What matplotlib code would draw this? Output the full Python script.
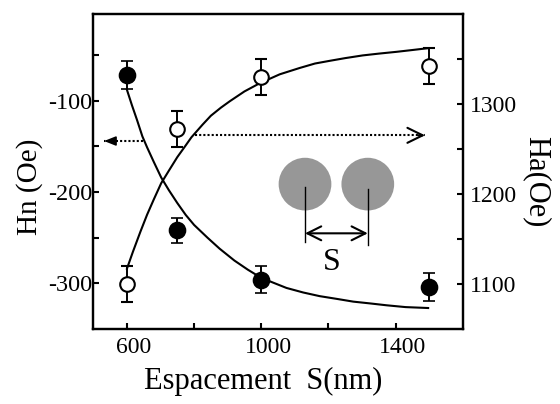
import matplotlib
matplotlib.use("Agg")
import matplotlib.pyplot as plt
from matplotlib.patches import Ellipse
from matplotlib.ticker import FixedLocator
from matplotlib.transforms import ScaledTranslation

plt.rcParams['font.family'] = ['Liberation Serif', 'DejaVu Serif']
plt.rcParams['axes.unicode_minus'] = False

# ---- data ----
spacing = [600, 750, 1000, 1500]
hn = [-72, -242, -296, -304]
hn_err = [15, 14, 15, 15]
ha = [1100, 1272, 1330, 1342]
ha_err = [20, 20, 20, 20]

hn_fit_x = [600, 615, 630, 646, 660, 680, 702, 725, 750, 775, 800, 840, 876,
            920, 960, 1000, 1075, 1125, 1174, 1225, 1274, 1325, 1373, 1430, 1497]
hn_fit = [-88, -105, -121, -139, -151, -167, -184, -198, -212, -225, -236, -250,
          -262, -275, -285, -294, -305, -310, -314, -317, -320, -322, -324, -326,
          -327]
ha_fit_x = [600, 618, 640, 660, 680, 702, 725, 750, 775, 792, 825, 850, 880,
            906, 950, 995, 1055, 1114, 1160, 1204, 1250, 1302, 1350, 1403, 1450,
            1496]
ha_fit = [1117, 1136, 1158, 1177, 1194, 1212, 1226, 1241, 1254, 1263, 1277, 1287,
          1296, 1303, 1314, 1323, 1333, 1340, 1345, 1348, 1351, 1354, 1356, 1358,
          1360, 1362]

x_major = [600, 1000, 1400]
x_minor = [800, 1200]
hn_major = [-300, -200, -100]
hn_minor = [-250, -150, -50]
ha_major = [1100, 1200, 1300]
ha_minor = [1150, 1250, 1350]

fig = plt.figure(figsize=(5.6, 4.04), dpi=100)
ax = fig.add_axes([0.1667, 0.1856, 0.6596, 0.7797])
ax2 = ax.twinx()

ax.set_xlim(500, 1600)
ax.set_ylim(-350, -5)
ax2.set_ylim(1050, 1400)

# fits
ax.plot(hn_fit_x, hn_fit, color='black', lw=1.5, zorder=2,
        solid_joinstyle='round')
ax2.plot(ha_fit_x, ha_fit, color='black', lw=1.5, zorder=2,
         solid_joinstyle='round')

# data points
ax.errorbar(spacing, hn, yerr=hn_err, fmt='o', color='black', ms=11.5,
            mfc='black', mec='black', mew=1.2, elinewidth=1.4, capsize=4.6,
            capthick=1.4, zorder=4)
ax2.errorbar(spacing, ha, yerr=ha_err, fmt='o', color='black', ms=10.5,
             mfc='white', mec='black', mew=1.5, elinewidth=1.4, capsize=4.6,
             capthick=1.4, zorder=4)

# ticks
for a in (ax, ax2):
    for sp in a.spines.values():
        sp.set_linewidth(1.6)
ax.xaxis.set_major_locator(FixedLocator(x_major))
ax.xaxis.set_minor_locator(FixedLocator(x_minor))
ax.yaxis.set_major_locator(FixedLocator(hn_major))
ax.yaxis.set_minor_locator(FixedLocator(hn_minor))
ax2.yaxis.set_major_locator(FixedLocator(ha_major))
ax2.yaxis.set_minor_locator(FixedLocator(ha_minor))

ax.tick_params(axis='x', which='both', direction='in', length=4.3, width=1.5,
               labelsize=17, pad=6, top=False)
ax.tick_params(axis='y', which='both', direction='in', length=4.3, width=1.5,
               labelsize=17.5, pad=1)
ax2.tick_params(axis='y', which='both', direction='in', length=4.3, width=1.5,
                labelsize=17, pad=5)
offset = ScaledTranslation(7 / 100, 0, fig.dpi_scale_trans)
for lab in ax.get_xticklabels():
    lab.set_transform(lab.get_transform() + offset)

# axis labels
fig.text(263.5 / 560, 1 - 389 / 404, 'Espacement  S(nm)', fontsize=22,
         ha='center', va='baseline')
fig.text(30 / 560, 1 - 186.5 / 404, 'Hn (Oe)', fontsize=21, rotation=90,
         ha='center', va='center')
fig.text(536 / 560, 1 - 181.5 / 404, 'Ha(Oe)', fontsize=22, rotation=-90,
         ha='center', va='center')

# dotted arrows
T = ax.transAxes
ax.plot([0.1355, 0.0300], [0.5968, 0.5968], transform=T, color='black',
        lw=1.5, ls=(0, (1, 1)), zorder=3)
ax.annotate('', xy=(0.0290, 0.5968), xytext=(0.045, 0.5968), xycoords=T,
            textcoords=T,
            arrowprops=dict(arrowstyle='-|>,head_length=0.5,head_width=0.2',
                            color='black', lw=1.2, mutation_scale=14,
                            shrinkA=0, shrinkB=0))
ax.plot([0.2753, 0.8970], [0.6149, 0.6149], transform=T, color='black',
        lw=1.5, ls=(0, (1, 1)), zorder=3)
ax.annotate('', xy=(0.8980, 0.6149), xytext=(0.880, 0.6149), xycoords=T,
            textcoords=T,
            arrowprops=dict(arrowstyle='->,head_length=0.55,head_width=0.27',
                            color='black', lw=1.5, mutation_scale=20,
                            shrinkA=0, shrinkB=0))

# schematic of two dots
for cx in (0.573, 0.743):
    ax.add_patch(Ellipse((cx, 0.460), 0.1427, 0.1673, transform=T,
                         facecolor='#979797', edgecolor='none', zorder=1))
ax.plot([0.573, 0.573], [0.4517, 0.2771], transform=T, color='black', lw=1.0)
ax.plot([0.743, 0.743], [0.4435, 0.2667], transform=T, color='black', lw=1.0)
ax.annotate('', xy=(0.743, 0.3038), xytext=(0.573, 0.3038), xycoords=T,
            textcoords=T,
            arrowprops=dict(arrowstyle='<->,head_length=0.5,head_width=0.25',
                            color='black', lw=1.5, mutation_scale=20,
                            shrinkA=0, shrinkB=0))
ax.text(0.646, 0.2105, 'S', transform=T, fontsize=23, ha='center',
        va='center')

fig.savefig('out.png', dpi=100)
